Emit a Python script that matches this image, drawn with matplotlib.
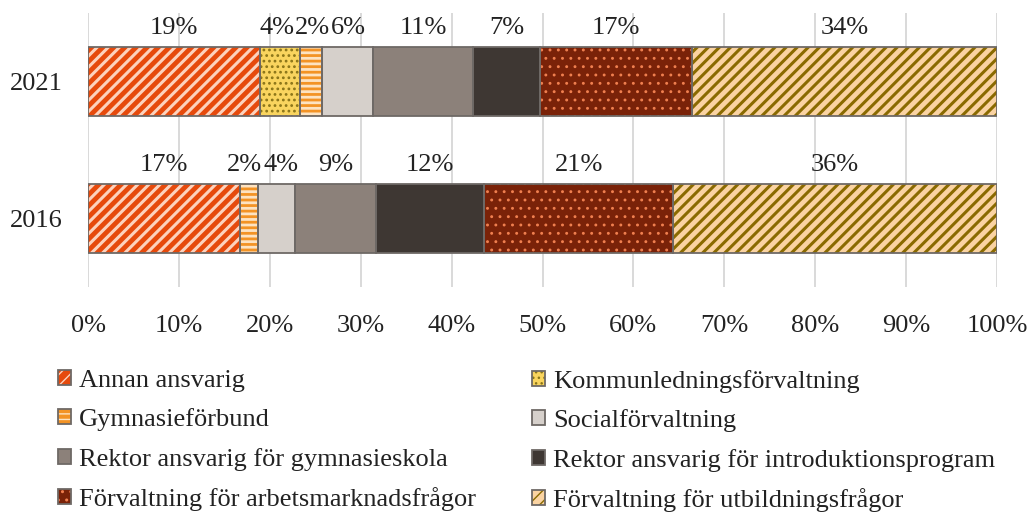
import matplotlib
matplotlib.use("Agg")
import matplotlib.pyplot as plt
from matplotlib.patches import Patch
import numpy as np

plt.rcParams['font.family'] = ['Liberation Serif', 'DejaVu Serif']

years = ["2021", "2016"]
categories = [
    "Annan ansvarig",
    "Kommunledningsförvaltning",
    "Gymnasieförbund",
    "Socialförvaltning",
    "Rektor ansvarig för gymnasieskola",
    "Rektor ansvarig för introduktionsprogram",
    "Förvaltning för arbetsmarknadsfrågor",
    "Förvaltning för utbildningsfrågor",
]
annan = [18.9, 16.7]
kommun = [4.4, 0.0]
gymnforb = [2.4, 2.0]
social = [5.7, 4.1]
rektor_gym = [11.0, 8.9]
rektor_intro = [7.3, 11.9]
forv_arb = [16.7, 20.8]
forv_utb = [33.6, 35.6]
series = [annan, kommun, gymnforb, social, rektor_gym, rektor_intro, forv_arb, forv_utb]

xticks = [0, 10, 20, 30, 40, 50, 60, 70, 80, 90, 100]

faces = ["#E64A0C", "#F9D45E", "#F39325", "#D6D0CB", "#8C817A", "#3E3733", "#7A2208", "#FAD3A2"]
hatches = ["///", "...", "---", None, None, None, "..", "///"]
hatch_lws = [2.2, 1.2, 2.0, 1.0, 1.0, 1.0, 0.9, 2.2]
hatch_cols = ["#FCD3BE", "#8A7418", "#FDE3C2", "#D6D0CB", "#8C817A", "#3E3733", "#F08050", "#8A6A00"]
edge = "#6E6966"

fig = plt.figure(figsize=(10.31, 5.25), dpi=100)
ax = fig.add_axes([88/1031, 1-287/525, 909/1031, 274/525])


def hatched_patch(p, lw):
    if hasattr(p, "set_hatch_linewidth"):
        p.set_hatch_linewidth(lw)


ypos = np.arange(len(years))[::-1]
left = np.zeros(len(years))
handles = []
row_labels = {i: [] for i in range(len(years))}
for vals, fc, h, hc, hlw, name in zip(series, faces, hatches, hatch_cols, hatch_lws, categories):
    vals = np.array(vals)
    with plt.rc_context({'hatch.linewidth': hlw}):
        bars = ax.barh(ypos, vals, left=left, height=0.51, facecolor=fc, hatch=h,
                       edgecolor=hc, linewidth=0, zorder=2)
        for b in bars:
            hatched_patch(b, hlw)
        hp = Patch(facecolor=fc, hatch=h, edgecolor=hc, linewidth=0)
        hatched_patch(hp, hlw)
    ax.barh(ypos, vals, left=left, height=0.51, facecolor="none",
            edgecolor=edge, linewidth=1.3, zorder=3)
    for i, (yp, l, v) in enumerate(zip(ypos, left, vals)):
        if v > 0:
            t = ax.text(l + v/2, yp + 0.39, f"{round(v)}%", ha="center", va="center",
                        fontsize=19, color="#222222")
            row_labels[i].append(t)
    left = left + vals
    handles.append((hp, Patch(facecolor="none", edgecolor=edge, linewidth=1.3)))

ax.set_xlim(0, 100)
ax.set_ylim(-0.5, 1.5)
ax.set_xticks(xticks)
ax.set_xticklabels([f"{t}%" for t in xticks])
ax.set_yticks(ypos)
ax.set_yticklabels(years)
ax.tick_params(axis="x", length=0, pad=20, labelsize=19, colors="#222222")
ax.tick_params(axis="y", length=0, pad=18, labelsize=19, colors="#222222")
for s in ax.spines.values():
    s.set_visible(False)
ax.grid(axis="x", color="#D9D9D9", linewidth=1.4, zorder=0)
ax.set_axisbelow(True)

# spread neighbouring data labels apart so they do not overlap (as the original does)
fig.canvas.draw()
renderer = fig.canvas.get_renderer()
px_per_unit = ax.transData.transform((1, 0))[0] - ax.transData.transform((0, 0))[0]
for labels in row_labels.values():
    xs = [t.get_position()[0] for t in labels]
    ws = [t.get_window_extent(renderer).width / px_per_unit for t in labels]
    for _ in range(50):
        moved = False
        for k in range(len(xs) - 1):
            need = (ws[k] + ws[k + 1]) / 2 + 0.1
            gap = xs[k + 1] - xs[k]
            if gap < need:
                d = (need - gap) / 2
                xs[k] -= d
                xs[k + 1] += d
                moved = True
        if not moved:
            break
    for t, x in zip(labels, xs):
        t.set_x(x)

kw = dict(loc="upper left", frameon=False, fontsize=19, borderpad=0, borderaxespad=0,
          handlelength=0.5, handleheight=0.5, handletextpad=0.3, labelspacing=0.62,
          labelcolor="#222222")
fig.legend([handles[i] for i in (0, 2, 4, 6)], [categories[i] for i in (0, 2, 4, 6)],
           bbox_to_anchor=(58/1031, 1-370/525), **kw)
fig.legend([handles[i] for i in (1, 3, 5, 7)], [categories[i] for i in (1, 3, 5, 7)],
           bbox_to_anchor=(532/1031, 1-370/525), **kw)

fig.savefig("out.png", dpi=100)
